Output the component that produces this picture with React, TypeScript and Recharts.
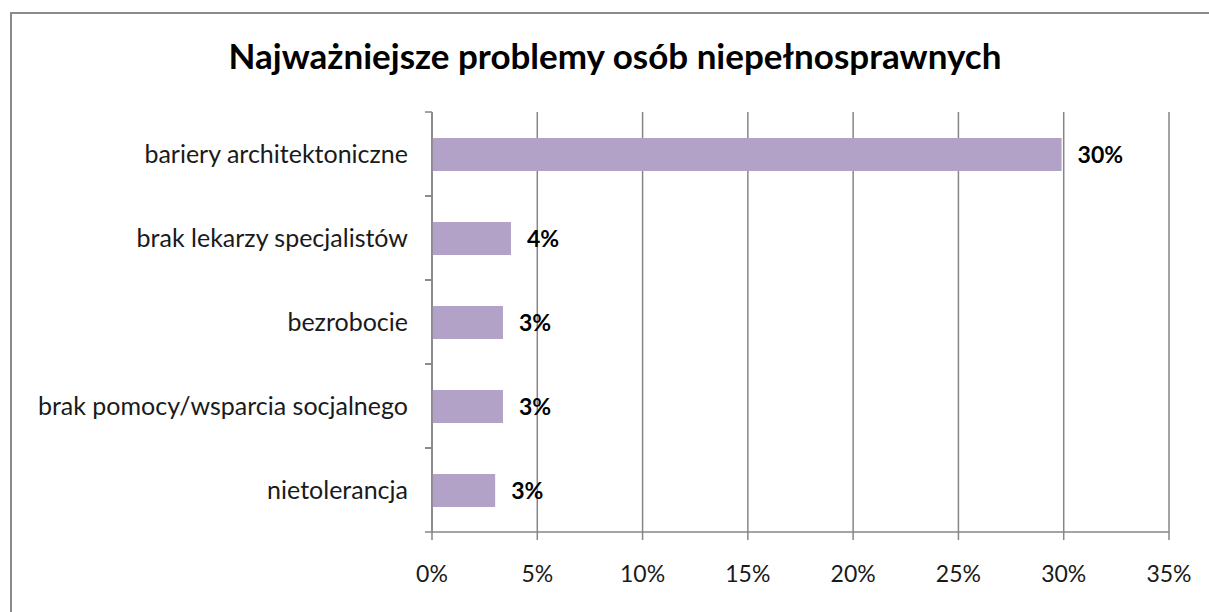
import React from 'react';
import { BarChart, Bar, XAxis, YAxis, CartesianGrid, LabelList } from 'recharts';

const categories = [
  'bariery architektoniczne',
  'brak lekarzy specjalistów',
  'bezrobocie',
  'brak pomocy/wsparcia socjalnego',
  'nietolerancja',
];
const values = [29.9, 3.75, 3.37, 3.37, 3.0];
const xTicks = [0, 5, 10, 15, 20, 25, 30, 35];
const title = 'Najważniejsze problemy osób niepełnosprawnych';

const data = categories.map((c, i) => ({ name: c, value: values[i] }));

const W = 1209;
const H = 612;
const margin = { top: 112, right: 40, bottom: 40, left: 12 };
const Y_W = 420;
const FONT = 'Lato, "Open Sans", sans-serif';
const GRAY = '#868686';
const plotH = H - margin.top - margin.bottom - 40;
const band = plotH / categories.length;

const CatTick = (props: any) => {
  const { x, y, payload } = props;
  const ax = x + 24;
  return (
    <g>
      <line x1={ax - 7} x2={ax} y1={y - band / 2} y2={y - band / 2} stroke={GRAY} strokeWidth={1.5} />
      <line x1={ax - 7} x2={ax} y1={y + band / 2} y2={y + band / 2} stroke={GRAY} strokeWidth={1.5} />
      <text x={x} y={y} dy="0.35em" textAnchor="end" fill="#1a1a1a" fontSize={25} fontFamily={FONT}>
        {payload.value}
      </text>
    </g>
  );
};

export default function App() {
  return (
    <div style={{ position: 'fixed', left: 0, top: 0, width: W, height: H, overflow: 'hidden', background: '#fff' }}>
      <div
        style={{
          position: 'absolute',
          left: 10,
          top: 12,
          width: 1210,
          height: 620,
          border: '2px solid #8a8a8a',
          boxSizing: 'border-box',
        }}
      />
      <div
        style={{
          position: 'absolute',
          left: 0,
          width: 1230,
          top: 35,
          textAlign: 'center',
          fontFamily: FONT,
          fontWeight: 700,
          fontSize: 35,
          lineHeight: '40px',
          color: '#000',
        }}
      >
        {title}
      </div>
      <div style={{ position: 'absolute', left: 0, top: 0 }}>
        <BarChart width={W} height={H} data={data} layout="vertical" margin={margin}>
          <CartesianGrid horizontal={false} stroke={GRAY} strokeWidth={1.5} />
          <XAxis
            type="number"
            domain={[0, 35]}
            ticks={xTicks}
            interval={0}
            tickFormatter={(v: number) => `${v}%`}
            axisLine={{ stroke: GRAY, strokeWidth: 1.5 }}
            tickLine={{ stroke: GRAY, strokeWidth: 1.5 }}
            tickSize={8}
            tickMargin={26}
            height={40}
            tick={{ fill: '#1a1a1a', fontSize: 23, fontFamily: FONT }}
          />
          <YAxis
            type="category"
            dataKey="name"
            width={Y_W}
            axisLine={{ stroke: GRAY, strokeWidth: 1.5 }}
            tickLine={false}
            tickSize={0}
            tickMargin={24}
            interval={0}
            tick={<CatTick />}
          />
          <Bar dataKey="value" fill="#B3A2C7" barSize={33} isAnimationActive={false}>
            <LabelList
              dataKey="value"
              position="right"
              offset={16}
              formatter={(v: number) => `${Math.round(v)}%`}
              style={{ fill: '#000', fontWeight: 700, fontSize: 23, fontFamily: FONT }}
            />
          </Bar>
        </BarChart>
      </div>
    </div>
  );
}
